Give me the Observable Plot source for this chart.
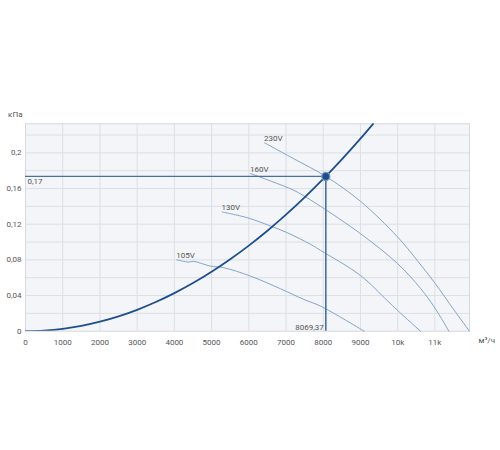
<!DOCTYPE html>
<html><head><meta charset="utf-8">
<script src="https://cdn.jsdelivr.net/npm/d3@7"></script>
<script src="https://cdn.jsdelivr.net/npm/@observablehq/plot@0.6"></script>
<style>
body{margin:0;background:#fff;}
#chart svg{display:block;}
</style>
</head><body><div id="chart"></div>
<script>
// System curve (flow m³/h, pressure kPa)
const systemQ = [0, 500, 1000, 1500, 2000, 2500, 3000, 3500, 4000, 4500, 5000, 5500, 6000, 6500, 7000, 7500, 8000, 8500, 9000, 9340];
const systemP = [0, 0.0007, 0.0027, 0.006, 0.0107, 0.0167, 0.024, 0.0327, 0.0427, 0.054, 0.0667, 0.0807, 0.096, 0.1127, 0.1307, 0.150, 0.1707, 0.1927, 0.216, 0.2326];

// Fan curves
const fanNames = ["230V", "160V", "130V", "105V"];
const q230 = [6425, 7212, 8069, 9000, 10000, 10525, 11000, 11510, 11930];
const p230 = [0.2112, 0.1933, 0.1736, 0.1457, 0.1056, 0.0794, 0.054, 0.024, 0];
const q160 = [6045, 6583, 7211, 7570, 7930, 9000, 10000, 10614, 11000, 11377];
const p160 = [0.1768, 0.1685, 0.158, 0.1495, 0.140, 0.1094, 0.0757, 0.048, 0.026, 0];
const q130 = [5283, 5955, 6583, 7031, 7659, 7930, 9000, 9717, 10000, 10614];
const p130 = [0.1337, 0.1273, 0.118, 0.1105, 0.0974, 0.0906, 0.0625, 0.0345, 0.0232, 0];
const q105 = [4065, 4386, 4520, 4969, 5327, 6045, 6852, 7480, 7930, 9100];
const p105 = [0.080, 0.0775, 0.0783, 0.073, 0.0712, 0.0618, 0.0476, 0.0356, 0.0281, 0];

// Operating point
const opQ = 8069.37;
const opP = 0.1736;
const opQLabel = "8069,37";
const opPLabel = "0,17";

// Axes
const xTicks = [0, 1000, 2000, 3000, 4000, 5000, 6000, 7000, 8000, 9000, 10000, 11000];
const xTickLabels = ["0", "1000", "2000", "3000", "4000", "5000", "6000", "7000", "8000", "9000", "10k", "11k"];
const yTicks = [0, 0.04, 0.08, 0.12, 0.16, 0.2];
const yTickLabels = ["0", "0,04", "0,08", "0,12", "0,16", "0,2"];
const yGrid = [0.02, 0.04, 0.06, 0.08, 0.1, 0.12, 0.14, 0.16, 0.18, 0.2, 0.22];
const xUnit = "м³/ч";
const yUnit = "кПа";
const xMax = 11930;
const yMax = 0.2326;

const toPts = (qs, ps, name) => qs.map((q, i) => ({q, p: ps[i], name}));
const systemPts = toPts(systemQ, systemP, "system");
const fanSeries = [toPts(q230, p230, fanNames[0]), toPts(q160, p160, fanNames[1]), toPts(q130, p130, fanNames[2]), toPts(q105, p105, fanNames[3])];
const fanPts = fanSeries.flat();
const fanStarts = fanSeries.map(s => s[0]);

const font = "Roboto, Inter, 'Noto Sans', sans-serif";
const labelColor = "#555";

const chart = Plot.plot({
  width: 500,
  height: 450,
  marginLeft: 25,
  marginRight: 31,
  marginTop: 123.3,
  marginBottom: 119.3,
  style: {fontFamily: font, fontSize: "8px", color: labelColor, background: "#fff"},
  x: {domain: [0, xMax], label: null},
  y: {domain: [0, yMax], label: null},
  marks: [
    Plot.frame({fill: "#f3f5f8", stroke: "none"}),
    Plot.gridX(xTicks.slice(1), {stroke: "#dcdfe4", strokeOpacity: 1, strokeWidth: 1}),
    Plot.gridY(yGrid, {stroke: "#dcdfe4", strokeOpacity: 1, strokeWidth: 1}),
    Plot.frame({stroke: "#d5d8de", strokeWidth: 1}),
    Plot.axisX(xTicks, {label: null, tickSize: 0, tickPadding: 8, tickFormat: d => xTickLabels[xTicks.indexOf(d)], fill: labelColor, fontSize: 8}),
    Plot.axisY(yTicks, {label: null, tickSize: 0, tickPadding: 4, tickFormat: d => yTickLabels[yTicks.indexOf(d)], fill: labelColor, fontSize: 8}),
    Plot.text([yUnit], {frameAnchor: "top-left", dx: -3, dy: -12.5, textAnchor: "end", fill: labelColor, fontSize: 8}),
    Plot.text([xUnit], {frameAnchor: "bottom-right", dx: 9, dy: 12, textAnchor: "start", fill: labelColor, fontSize: 8}),
    Plot.line(fanPts, {x: "q", y: "p", z: "name", stroke: "#86a3c8", strokeWidth: 1, curve: "catmull-rom"}),
    Plot.text(fanStarts, {x: "q", y: "p", text: "name", textAnchor: "start", lineAnchor: "bottom", dx: -0.5, dy: -1.5, fill: labelColor, fontSize: 8}),
    Plot.ruleY([opP], {x1: 0, x2: opQ, stroke: "#4a6fa3", strokeWidth: 1.3}),
    Plot.ruleX([opQ], {y1: 0, y2: opP, stroke: "#4a6fa3", strokeWidth: 1.6}),
    Plot.line(systemPts, {x: "q", y: "p", stroke: "#1f4f8f", strokeWidth: 1.8, curve: "catmull-rom", clip: true}),
    Plot.dot([{q: opQ, p: opP}], {x: "q", y: "p", r: 4, fill: "#1d4d8d", stroke: "#7596c4", strokeWidth: 1.3}),
    Plot.text([opPLabel], {x: 0, y: opP, textAnchor: "start", lineAnchor: "top", dx: 2, dy: 2, fill: labelColor, fontSize: 8}),
    Plot.text([opQLabel], {x: opQ, y: 0, textAnchor: "end", lineAnchor: "bottom", dx: -2, dy: -1.5, fill: labelColor, fontSize: 8})
  ]
});
document.getElementById("chart").appendChild(chart);
</script>
</body></html>
